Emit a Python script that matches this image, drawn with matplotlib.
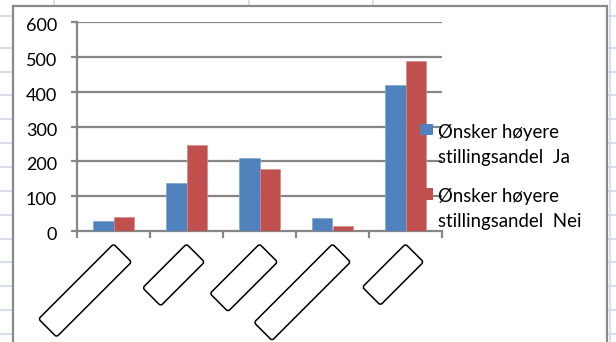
import matplotlib
matplotlib.use("Agg")
import matplotlib.pyplot as plt
from matplotlib.patches import Rectangle, FancyBboxPatch
from matplotlib.transforms import Affine2D, ScaledTranslation
import numpy as np

plt.rcParams['font.family'] = ['Lato', 'DejaVu Sans']

# Data
categories = ["", "", "", "", ""]
ja_values = [29, 137, 210, 36, 419]
nei_values = [41, 246, 178, 13, 488]
series_labels = ["Ønsker høyere\nstillingsandel  Ja", "Ønsker høyere\nstillingsandel  Nei"]
y_ticks = [0, 100, 200, 300, 400, 500, 600]

BLUE = "#4f81bd"
RED = "#c0504d"
GRID = "#868686"
SHEET = "#cfd9ea"

W, H = 616, 342
fig = plt.figure(figsize=(W / 100, H / 100), dpi=100)
fig.patch.set_facecolor("white")


def fx(px):
    return px / W


def fy(py):
    return 1 - py / H


# spreadsheet cell lines behind the chart object
for yy in [16, 47.7, 71.6, 95.5, 119.4, 143.3, 167.2, 191, 214.8, 238.6, 262.4, 286.2, 310, 333.8]:
    fig.add_artist(plt.Line2D([0, 1], [fy(yy), fy(yy)], color=SHEET, lw=1.2, zorder=0))
for xx in [54, 249, 373, 610]:
    fig.add_artist(plt.Line2D([fx(xx), fx(xx)], [0, 1], color=SHEET, lw=1.2, zorder=0))

# chart object frame
fig.add_artist(Rectangle((fx(13), fy(350)), fx(607) - fx(13), fy(6) - fy(350),
                         facecolor="white", edgecolor="#8a8a8a", lw=1.6,
                         transform=fig.transFigure, zorder=1))

ax_left, ax_right, ax_top, ax_bottom = 77, 442, 22.3, 231
ax = fig.add_axes([fx(ax_left), fy(ax_bottom), fx(ax_right) - fx(ax_left), fy(ax_top) - fy(ax_bottom)])
ax.set_zorder(2)
ax.patch.set_alpha(0)

x = np.arange(len(categories))
bw = 1 / 3.5
ax.bar(x - bw / 2, ja_values, bw, color=BLUE, edgecolor="#7ea3d3", lw=0.5, zorder=3)
ax.bar(x + bw / 2, nei_values, bw, color=RED, edgecolor="#d98a88", lw=0.5, zorder=3)

ax.set_xlim(-0.5, len(categories) - 0.5)
ax.set_ylim(0, 600)
ax.set_yticks(y_ticks)
ax.set_yticklabels([str(v) for v in y_ticks], fontsize=13)
ax.set_xticks(np.arange(len(categories) + 1) - 0.5)
ax.set_xticklabels([])
ax.tick_params(axis="y", length=4.3, width=1.6, color=GRID, pad=10)
ax.tick_params(axis="x", length=5, width=1.6, color=GRID)
shift = ScaledTranslation(0, -2.5 / 100, fig.dpi_scale_trans)
for lbl in ax.get_yticklabels():
    lbl.set_transform(lbl.get_transform() + shift)
for v in y_ticks[1:]:
    ax.axhline(v, color=GRID, lw=1.6, zorder=1)
for s in ["top", "right"]:
    ax.spines[s].set_visible(False)
for s in ["left", "bottom"]:
    ax.spines[s].set_color(GRID)
    ax.spines[s].set_linewidth(1.6)

# category labels rendered as empty rotated boxes
box_lengths = [106, 62, 70, 111, 61]
box_depth = 25.5
for i, L in enumerate(box_lengths):
    xd, _ = ax.transData.transform((x[i], 0))
    yd = H - 244
    p = FancyBboxPatch((-L, -box_depth), L, box_depth,
                       boxstyle="round,pad=0,rounding_size=2.5",
                       facecolor="white", edgecolor="black", lw=1.1,
                       transform=Affine2D().rotate_deg(45).translate(xd, yd), zorder=5)
    fig.add_artist(p)

# legend
legend_rows = [(124, BLUE, 138.3), (188, RED, 201.7)]
for (sq_top, col, base), lab in zip(legend_rows, series_labels):
    fig.add_artist(Rectangle((fx(420), fy(sq_top + 11.5)), fx(433) - fx(420), fy(sq_top) - fy(sq_top + 11.5),
                             facecolor=col, edgecolor="none", transform=fig.transFigure, zorder=6))
    l1, l2 = lab.split("\n")
    fig.text(fx(437.7), fy(base), l1, fontsize=13.4, va="baseline", ha="left", zorder=6)
    fig.text(fx(437.7), fy(base + 25), l2, fontsize=13.4, va="baseline", ha="left", zorder=6)

fig.savefig("out.png", dpi=100)
